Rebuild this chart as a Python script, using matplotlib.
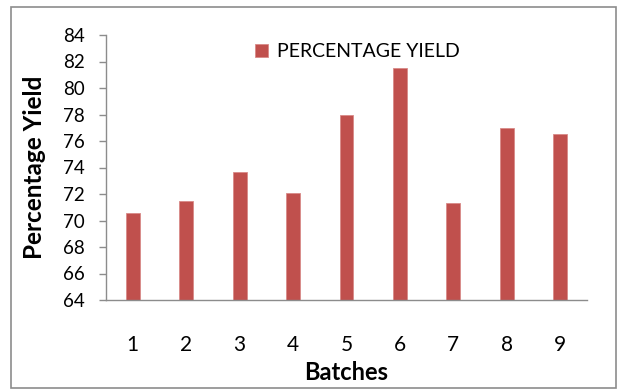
import matplotlib.pyplot as plt
from matplotlib.patches import Rectangle

batches = [1, 2, 3, 4, 5, 6, 7, 8, 9]
yield_pct = [70.55, 71.5, 73.65, 72.1, 78.0, 81.5, 71.35, 76.95, 76.5]
y_ticks = list(range(64, 86, 2))

plt.rcParams['font.family'] = ['Lato', 'DejaVu Sans']

fig = plt.figure(figsize=(6.19, 3.90), dpi=100)
# grey frame around the whole chart
fig.patches.append(Rectangle((11 / 619, 1 - 388 / 390), 605 / 619, 381 / 390,
                             transform=fig.transFigure, fill=False,
                             edgecolor='#8c8c8c', linewidth=1.2))

ax = fig.add_axes([106 / 619, 1 - 300 / 390, 481 / 619, 265 / 390])
ax.bar(batches, yield_pct, width=0.26, color='#C0504D', edgecolor='#d98a88',
       linewidth=0.6, label='PERCENTAGE YIELD')

ax.set_xlim(0.5, 9.5)
ax.set_ylim(64, 84)
ax.set_yticks(y_ticks)
ax.set_xticks(batches)

for side in ['top', 'right']:
    ax.spines[side].set_visible(False)
ax.spines['left'].set_color('#8c8c8c')
ax.spines['bottom'].set_color('#8c8c8c')
ax.spines['left'].set_linewidth(1.0)
ax.spines['bottom'].set_linewidth(1.0)

ax.tick_params(axis='y', length=5, color='#8c8c8c', width=1.0,
               labelsize=13.5, pad=10)
ax.tick_params(axis='x', length=0, labelsize=15, pad=25)

ax.set_ylabel('Percentage Yield', fontsize=17.5, fontweight='bold')
ax.yaxis.set_label_coords(-0.125, 0.5)
ax.set_xlabel('Batches', fontsize=17, fontweight='bold')
ax.xaxis.set_label_coords(0.5, -0.23)

ax.legend(loc='upper left', bbox_to_anchor=(0.29, 1.005), frameon=False,
          fontsize=14, handlelength=0.65, handleheight=0.65,
          handletextpad=0.45, borderaxespad=0.1)

fig.savefig('out.png', dpi=100)
